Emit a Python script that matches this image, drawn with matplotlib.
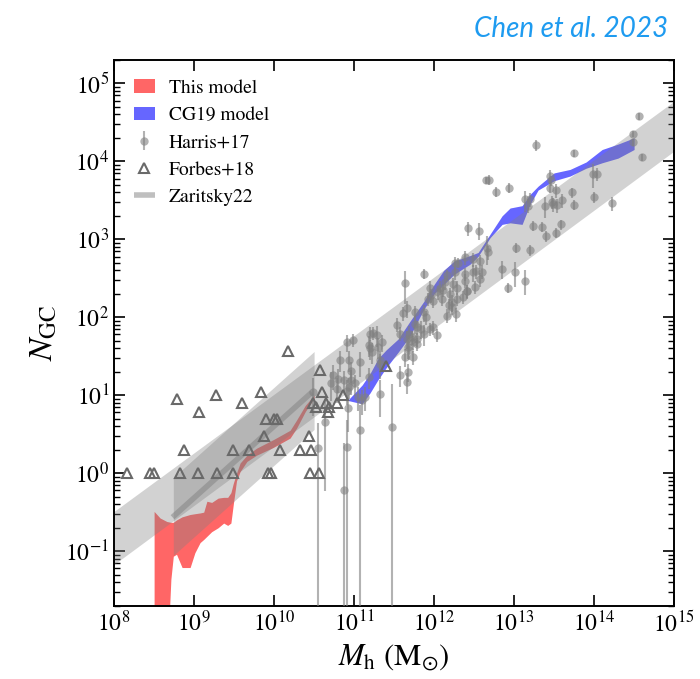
import numpy as np
import matplotlib as mpl
mpl.use('Agg')
import matplotlib.pyplot as plt
from matplotlib.ticker import LogLocator, NullLocator

plt.rcParams['font.family'] = 'serif'
plt.rcParams['font.serif'] = ['STIXGeneral', 'Liberation Serif', 'DejaVu Serif']
plt.rcParams['mathtext.fontset'] = 'stix'

# ---- data (log10 values) ----
# broad grey band spanning the whole mass range
band_logx = [8.0, 15.0]
band_hi = [-0.49, 4.77]
band_lo = [-1.17, 4.13]

# Zaritsky22 relation and its scatter
zar_logx = [8.74, 10.50]
zar_hi = [-0.055, 1.56]
zar_lo = [-1.055, 0.56]
zar_line_logx = [8.73, 10.47]
zar_line_logy = [-0.565, 1.035]

# This model (red band)
red_logx = [8.50, 8.575, 8.66, 8.71, 8.74, 8.78, 8.85, 8.95, 9.01, 9.075, 9.12,
            9.16, 9.22, 9.30, 9.37, 9.42, 9.46, 9.49, 9.53, 9.575, 9.66, 9.78,
            9.99, 10.2, 10.28, 10.39, 10.5]
red_hi = [-0.49, -0.575, -0.62, -0.63, -0.63, -0.60, -0.56, -0.53, -0.52, -0.51,
          -0.50, -0.36, -0.375, -0.32, -0.31, -0.31, -0.25, -0.13, 0.0, 0.13,
          0.23, 0.32, 0.43, 0.55, 0.68, 0.87, 1.0]
red_lo = [-2.5, -2.5, -2.5, -1.36, -1.065, -1.04, -1.21, -1.21, -1.02, -0.89,
          -0.85, -0.81, -0.75, -0.70, -0.64, -0.67, -0.64, -0.40, -0.10, 0.02,
          0.15, 0.23, 0.33, 0.45, 0.575, 0.79, 0.96]

# CG19 model (blue band)
blue_logx = [10.93, 11.1, 11.2, 11.3, 11.4, 11.55, 11.7, 11.87, 12.0, 12.12, 12.25,
             12.45, 12.55, 12.7, 12.85, 12.95, 13.1, 13.2, 13.3, 13.5, 13.7, 13.9,
             14.1, 14.3, 14.5]
blue_hi = [0.945, 1.13, 1.28, 1.47, 1.58, 1.72, 1.95, 2.2, 2.42, 2.60, 2.72, 2.79,
           2.83, 3.065, 3.30, 3.40, 3.43, 3.575, 3.68, 3.85, 3.895, 3.99, 4.15,
           4.22, 4.30]
blue_lo = [0.93, 0.89, 1.03, 1.20, 1.35, 1.55, 1.76, 2.10, 2.30, 2.42, 2.55, 2.68,
           2.78, 3.02, 3.19, 3.21, 3.19, 3.45, 3.63, 3.75, 3.81, 3.91, 3.98, 4.04,
           4.15]

# Harris+17: log Mh, log N_GC, fractional error on N_GC
harris_logx = [14.56, 14.48, 14.48, 14.60, 13.27, 13.75, 12.94, 12.68, 12.65, 12.775,
               13.45, 13.46, 13.45, 13.52, 13.98, 14.04, 13.14, 13.20, 13.38, 13.47,
               13.49, 13.54, 13.60, 13.72, 13.75, 14.00, 14.22, 13.24, 13.35, 13.58,
               13.40, 13.53, 13.03, 13.20, 13.17, 12.42, 12.56, 12.66, 12.675, 11.875,
               12.26, 12.30, 12.38, 12.49, 12.57, 12.16, 12.26, 12.39, 12.49, 12.525,
               12.60, 12.38, 12.575, 12.85, 13.01, 13.13, 12.92, 12.51, 12.41, 12.24,
               11.95, 12.05, 12.11, 12.20, 12.28, 12.36, 12.22, 12.275, 12.16, 11.64,
               11.53, 11.61, 11.66, 11.76, 11.90, 11.79, 11.83, 11.95, 11.87, 11.98,
               12.03, 11.69, 11.72, 11.78, 11.96, 11.92, 11.99, 12.10, 12.075, 12.14,
               12.28, 12.41, 12.22, 12.18, 11.87, 11.76, 11.73, 11.78, 11.575, 11.66,
               11.67, 10.91, 10.99, 11.20, 11.24, 11.28, 11.18, 11.20, 11.22, 11.35,
               10.82, 11.075, 11.32, 10.73, 10.80, 10.87, 10.96, 10.96, 11.01, 10.71,
               10.78, 10.91, 10.94, 11.05, 11.10, 11.14, 11.18, 11.575, 11.67, 11.66,
               11.64, 11.74, 11.68, 11.325, 10.92, 10.64, 11.075, 11.47, 10.91, 10.55,
               10.87, 10.49, 10.93, 11.30, 11.325]
harris_logn = [4.575, 4.35, 4.24, 4.05, 4.205, 4.10, 3.66, 3.76, 3.76, 3.61,
               3.81, 3.755, 3.66, 3.63, 3.84, 3.84, 3.51, 3.51, 3.43, 3.48,
               3.45, 3.435, 3.50, 3.60, 3.44, 3.54, 3.46, 3.17, 3.16, 3.19,
               3.04, 3.085, 2.89, 2.86, 3.43, 3.14, 3.11, 2.89, 2.83, 2.555,
               2.69, 2.70, 2.77, 2.74, 2.72, 2.54, 2.58, 2.555, 2.575, 2.59,
               2.585, 2.47, 2.49, 2.62, 2.58, 2.47, 2.375, 2.39, 2.33, 2.42,
               2.38, 2.32, 2.35, 2.30, 2.235, 2.26, 2.13, 2.04, 2.02, 2.435,
               1.905, 2.05, 2.115, 2.065, 2.00, 1.87, 1.85, 1.85, 1.78, 1.87,
               1.775, 1.79, 1.745, 1.72, 2.28, 2.235, 2.21, 2.235, 2.38, 2.45,
               2.38, 2.34, 2.19, 2.15, 2.065, 1.915, 1.68, 1.66, 1.79, 1.72,
               1.62, 1.68, 1.71, 1.79, 1.80, 1.77, 1.64, 1.60, 1.55, 1.68,
               1.45, 1.425, 1.45, 1.255, 1.21, 1.20, 1.31, 1.19, 1.15, 1.15,
               1.085, 1.06, 1.105, 0.98, 0.935, 0.98, 1.23, 1.255, 1.30, 1.17,
               1.49, 1.49, 1.575, 1.02, 0.83, 0.66, 0.553, 0.595, 0.34, 0.32,
               -0.22, 1.04, 1.45, 1.62, 1.40]
harris_ferr = [0.1, 0.1, 0.1, 0.1, 0.15, 0.1, 0.15, 0.15, 0.1, 0.15,
               0.2, 0.15, 0.15, 0.2, 0.35, 0.2, 0.3, 0.2, 0.3, 0.2,
               0.2, 0.2, 0.2, 0.15, 0.15, 0.15, 0.2, 0.15, 0.15, 0.15,
               0.15, 0.15, 0.15, 0.15, 0.2, 0.2, 0.25, 0.4, 0.2, 0.15,
               0.2, 0.15, 0.2, 0.2, 0.2, 0.15, 0.2, 0.2, 0.25, 0.2,
               0.2, 0.2, 0.2, 0.25, 0.35, 0.35, 0.15, 0.2, 0.2, 0.2,
               0.2, 0.2, 0.2, 0.2, 0.2, 0.2, 0.2, 0.2, 0.2, 0.45,
               0.2, 0.2, 0.25, 0.2, 0.2, 0.2, 0.25, 0.2, 0.3, 0.2,
               0.2, 0.25, 0.2, 0.2, 0.2, 0.2, 0.2, 0.2, 0.2, 0.2,
               0.2, 0.2, 0.25, 0.2, 0.25, 0.25, 0.2, 0.2, 0.2, 0.25,
               0.3, 0.25, 0.2, 0.2, 0.2, 0.3, 0.3, 0.3, 0.3, 0.25,
               0.3, 0.35, 0.3, 0.35, 0.35, 0.3, 0.3, 0.35, 0.3, 0.4,
               0.35, 0.35, 0.3, 0.35, 0.35, 0.35, 0.3, 0.3, 0.25, 0.3,
               0.25, 0.2, 0.25, 0.5, 0.5, 0.87, 1.1, 2.5, 1.2, 1.1,
               3.0, 0.5, 0.3, 0.3, 0.35]

# Forbes+18: log Mh, N_GC
forbes_logx = [8.16, 8.45, 8.50, 8.825, 9.05, 9.28, 9.49, 9.92, 9.96, 10.45, 10.56,
               8.875, 9.48, 9.69, 10.075, 10.325, 10.46,
               9.87, 10.43, 9.90, 10.00, 10.03, 9.06, 8.79, 9.27, 10.86, 9.60,
               9.84, 10.60, 10.17, 10.575, 11.40, 10.49, 10.525, 10.65, 10.68,
               10.67, 10.78]
forbes_n = [1, 1, 1, 1, 1, 1, 1, 1, 1, 1, 1,
            2, 2, 2, 2, 2, 2,
            3, 3, 5, 5, 5, 6, 9, 10, 10, 8,
            11, 11, 37, 21, 24, 8, 7, 8, 7,
            6, 8]

fig = plt.figure(figsize=(7, 6.79), dpi=100)
ax = fig.add_axes([0.163, 0.108, 0.8, 0.804])

ax.fill_between(10**np.array(red_logx), 10**np.array(red_lo), 10**np.array(red_hi),
                color='red', alpha=0.6, lw=0, zorder=1, label='This model')
ax.fill_between(10**np.array(blue_logx), 10**np.array(blue_lo), 10**np.array(blue_hi),
                color='blue', alpha=0.6, lw=0, zorder=1, label='CG19 model')

ax.fill_between(10**np.array(band_logx), 10**np.array(band_lo), 10**np.array(band_hi),
                color='grey', alpha=0.35, lw=0, zorder=2)
ax.fill_between(10**np.array(zar_logx), 10**np.array(zar_lo), 10**np.array(zar_hi),
                color='grey', alpha=0.35, lw=0, zorder=2)
zar, = ax.plot(10**np.array(zar_line_logx), 10**np.array(zar_line_logy), color='grey',
               alpha=0.5, lw=4, solid_capstyle='butt', zorder=3, label='Zaritsky22')

hn = 10**np.array(harris_logn)
hf = np.array(harris_ferr)
har = ax.errorbar(10**np.array(harris_logx), hn, yerr=[hn * hf, hn * hf], fmt='o',
                  color='grey', ms=6, mew=0, elinewidth=1.5, alpha=0.6, zorder=4,
                  label='Harris+17')
frb, = ax.plot(10**np.array(forbes_logx), forbes_n, ls='none', marker='^', ms=7,
               mfc='none', mec='dimgrey', mew=1.5, zorder=5, label='Forbes+18')

ax.set_xscale('log')
ax.set_yscale('log')
ax.set_xlim(1e8, 1e15)
ax.set_ylim(0.02, 2e5)
ax.xaxis.set_major_locator(LogLocator(base=10, numticks=20))
ax.xaxis.set_minor_locator(NullLocator())
ax.yaxis.set_major_locator(LogLocator(base=10, numticks=20))
ax.yaxis.set_minor_locator(LogLocator(base=10, subs=np.arange(2, 10), numticks=20))
ax.tick_params(which='both', direction='in', top=True, right=True, labelsize=17)
ax.tick_params(which='major', length=8, width=1.2)
ax.tick_params(which='minor', length=4, width=1)
for s in ax.spines.values():
    s.set_linewidth(1.4)

ax.set_xlabel(r'$M_{\rm h}\ ({\rm M}_{\odot})$', fontsize=22)
ax.set_ylabel(r'$N_{\rm GC}$', fontsize=24)

handles, labels = ax.get_legend_handles_labels()
order = ['This model', 'CG19 model', 'Harris+17', 'Forbes+18', 'Zaritsky22']
hmap = dict(zip(labels, handles))
ax.legend([hmap[k] for k in order], order, loc='upper left', frameon=False,
          fontsize=14, handlelength=1.1, handletextpad=0.7, labelspacing=0.5,
          borderaxespad=0.6)

fig.text(0.955, 0.958, 'Chen et al. 2023', ha='right', va='center', fontsize=20,
         family='Lato', style='italic', color='#1E9BF0')

plt.savefig('out.png', dpi=100)
plt.close()
